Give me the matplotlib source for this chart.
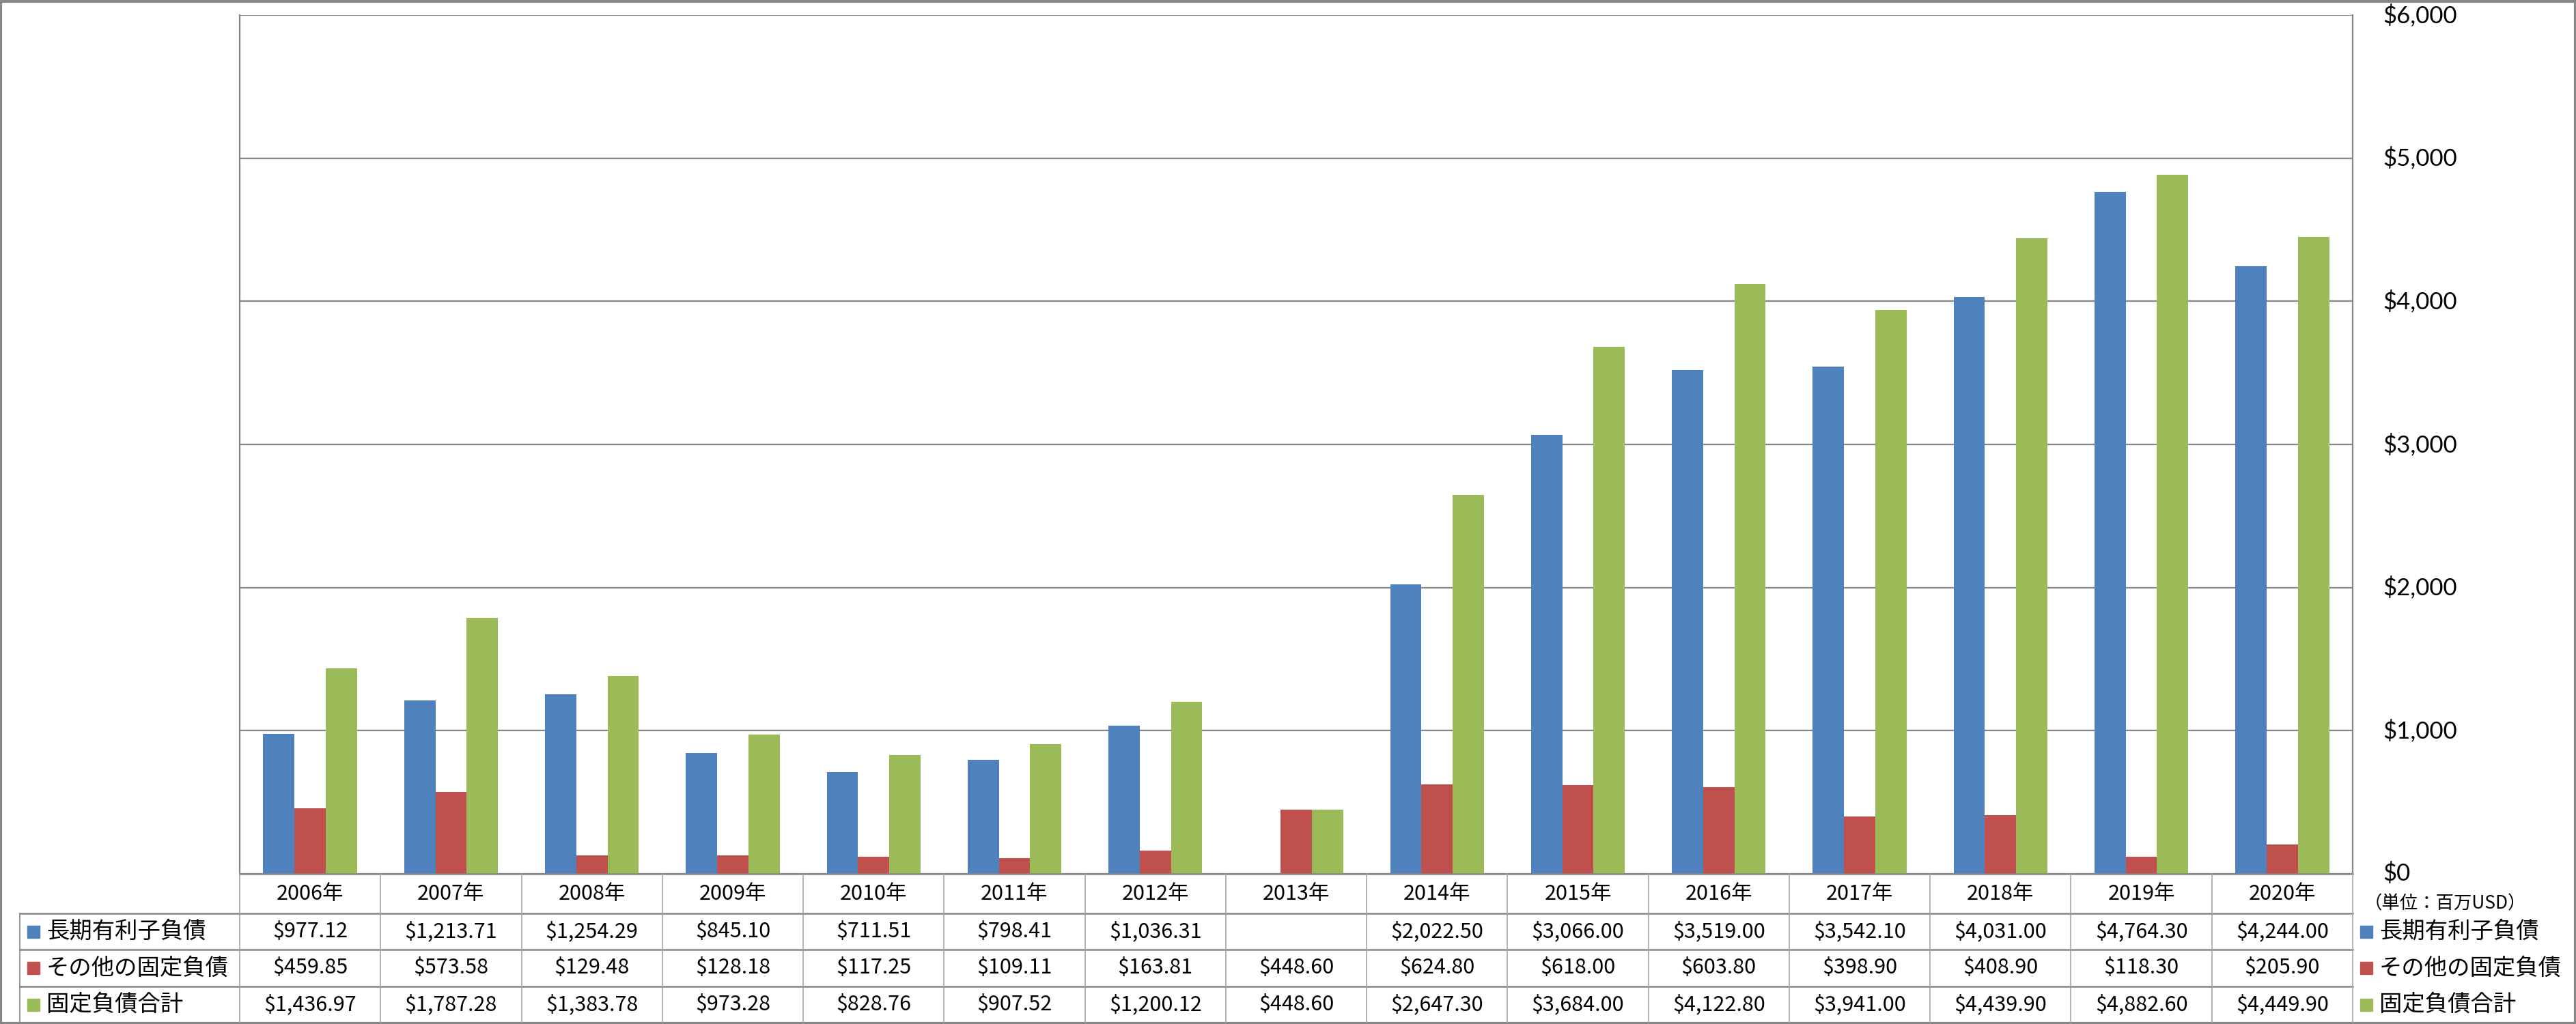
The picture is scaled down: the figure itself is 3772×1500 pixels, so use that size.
import matplotlib
matplotlib.use("Agg")
import matplotlib.pyplot as plt
import numpy as np
from matplotlib.patches import Rectangle

plt.rcParams["font.family"] = ["Noto Sans CJK JP", "DejaVu Sans"]

years = ["2006年", "2007年", "2008年", "2009年", "2010年", "2011年", "2012年", "2013年",
         "2014年", "2015年", "2016年", "2017年", "2018年", "2019年", "2020年"]
series_names = ["長期有利子負債", "その他の固定負債", "固定負債合計"]
long_debt = [977.12, 1213.71, 1254.29, 845.10, 711.51, 798.41, 1036.31, np.nan,
             2022.50, 3066.00, 3519.00, 3542.10, 4031.00, 4764.30, 4244.00]
other_fixed = [459.85, 573.58, 129.48, 128.18, 117.25, 109.11, 163.81, 448.60,
               624.80, 618.00, 603.80, 398.90, 408.90, 118.30, 205.90]
total_fixed = [1436.97, 1787.28, 1383.78, 973.28, 828.76, 907.52, 1200.12, 448.60,
               2647.30, 3684.00, 4122.80, 3941.00, 4439.90, 4882.60, 4449.90]
yticks = [0, 1000, 2000, 3000, 4000, 5000, 6000]
unit_text = "（単位：百万USD）"

colors = ["#4F81BD", "#C0504D", "#9BBB59"]
grid_c = "#868686"
W, H = 3773, 1500
x0, x1, ytop, ybot = 351, 3445, 22, 1280

fig = plt.figure(figsize=(W / 100, H / 100), dpi=100)
ax = fig.add_axes([x0 / W, 1 - ybot / H, (x1 - x0) / W, (ybot - ytop) / H])

n = len(years)
x = np.arange(n)
bw = 0.222
for k, vals in enumerate([long_debt, other_fixed, total_fixed]):
    ax.bar(x + (k - 1) * bw, vals, width=bw, color=colors[k], zorder=3)

ax.set_xlim(-0.5, n - 0.5)
ax.set_ylim(0, 6000)
ax.set_yticks(yticks)
ax.yaxis.tick_right()
ax.set_yticklabels(["${:,.0f}".format(v) for v in yticks], fontsize=25, family=["Lato", "DejaVu Sans"])
ax.tick_params(axis="y", length=0, pad=32)
ax.tick_params(axis="x", bottom=False, labelbottom=False)
for lbl in ax.get_yticklabels():
    lbl.set_horizontalalignment("left")
    lbl.set_verticalalignment("center")
ax.grid(axis="y", color=grid_c, linewidth=1.6, zorder=0)
for s in ["top", "bottom"]:
    ax.spines[s].set_visible(False)
for s in ["left", "right"]:
    ax.spines[s].set_color(grid_c)
    ax.spines[s].set_linewidth(1.6)

# overlay for the data table, pixel coordinates
ov = fig.add_axes([0, 0, 1, 1], zorder=5)
ov.set_xlim(0, W)
ov.set_ylim(H, 0)
ov.axis("off")
ov.patch.set_alpha(0)

cw = (x1 - x0) / n
rows_y = [1280, 1338, 1391, 1445, 1498]
tl = 29
ov.plot([x0, x1], [rows_y[0], rows_y[0]], color=grid_c, lw=1.8)
for yy in rows_y[1:4]:
    ov.plot([tl, x1], [yy, yy], color=grid_c, lw=1.8)
ov.plot([tl, tl], [rows_y[1], rows_y[4]], color=grid_c, lw=1.2)
for i in range(n + 1):
    xx = x0 + i * cw
    ov.plot([xx, xx], [rows_y[0], rows_y[4]], color="#A6A6A6", lw=1.2)

data_rows = [long_debt, other_fixed, total_fixed]
for i in range(n):
    cx = x0 + (i + 0.5) * cw
    ov.text(cx, (rows_y[0] + rows_y[1]) / 2, years[i], ha="center", va="center", fontsize=22)
    for r in range(3):
        v = data_rows[r][i]
        if not np.isnan(v):
            ov.text(cx, (rows_y[r + 1] + rows_y[r + 2]) / 2, "${:,.2f}".format(v),
                    ha="center", va="center", fontsize=22)

for r in range(3):
    cy = (rows_y[r + 1] + rows_y[r + 2]) / 2
    ov.add_patch(Rectangle((40, cy - 9), 18, 18, color=colors[r]))
    ov.text(68, cy, series_names[r], ha="left", va="center", fontsize=24)
    ov.add_patch(Rectangle((3456, cy - 9), 18, 18, color=colors[r]))
    ov.text(3484, cy, series_names[r], ha="left", va="center", fontsize=24)

ov.text(3462, 1324, unit_text, ha="left", va="center", fontsize=19)

ov.add_patch(Rectangle((1.5, 1.5), W - 3, H - 3, fill=False, edgecolor=grid_c, lw=3))

fig.savefig("out.png", dpi=100)
